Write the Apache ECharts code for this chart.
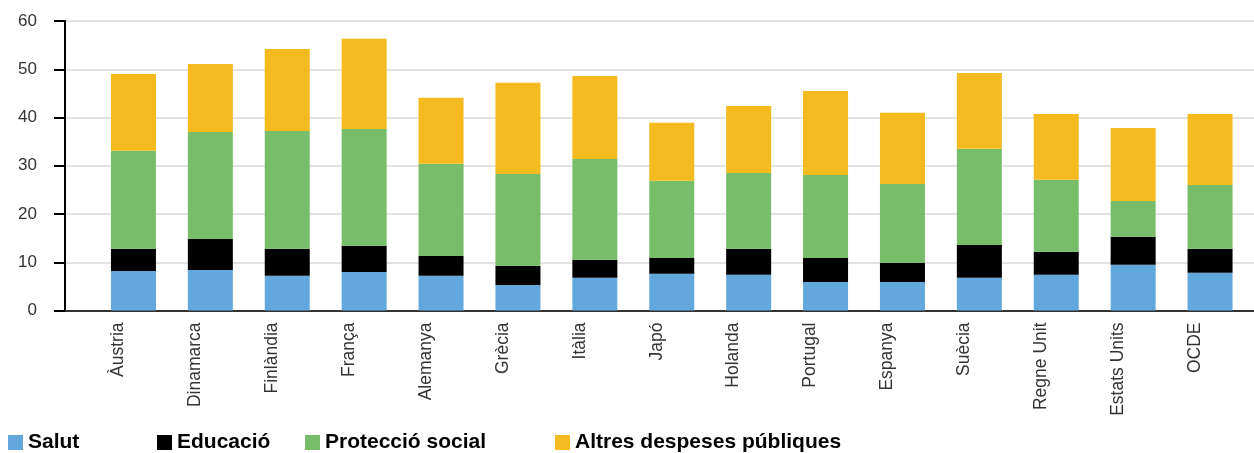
<!DOCTYPE html>
<html>
<head>
<meta charset="utf-8">
<script src="https://cdn.jsdelivr.net/npm/echarts@6/dist/echarts.min.js"></script>
<style>
html,body{margin:0;padding:0;background:#fff;}
#chart{width:1254px;height:453px;}
</style>
</head>
<body>
<div id="chart"></div>
<script>
const categories = ['Àustria','Dinamarca','Finlàndia','França','Alemanya','Grècia','Itàlia','Japó','Holanda','Portugal','Espanya','Suècia','Regne Unit','Estats Units','OCDE'];
const salut     = [8.2, 8.4, 7.2, 8.0, 7.2, 5.3, 6.8, 7.6, 7.4, 5.9, 5.9, 6.8, 7.4, 9.5, 7.8];
const educacio  = [4.6, 6.4, 5.6, 5.4, 4.1, 3.95, 3.7, 3.3, 5.4, 5.0, 4.0, 6.8, 4.8, 5.8, 5.0];
const proteccio = [20.3, 22.2, 24.4, 24.2, 19.1, 19.05, 20.9, 16.0, 15.7, 17.2, 16.3, 19.9, 14.9, 7.4, 13.2];
const altres    = [15.9, 14.1, 17.0, 18.7, 13.7, 18.9, 17.2, 12.0, 13.9, 17.4, 14.8, 15.7, 13.6, 15.1, 14.7];
const yTicks = [0, 10, 20, 30, 40, 50, 60];
const seriesNames = ['Salut','Educació','Protecció social','Altres despeses públiques'];
const seriesColors = ['#62A8DC','#000000','#78BE6A','#F5BA1E'];
const seriesData = [salut, educacio, proteccio, altres];

const chart = echarts.init(document.getElementById('chart'));
const fontFam = '"Liberation Sans", Arial, sans-serif';
const legendLefts = [8, 157, 305, 555];

chart.setOption({
  animation: false,
  backgroundColor: '#ffffff',
  textStyle: { fontFamily: fontFam },
  legend: seriesNames.map((n, i) => ({
    data: [n],
    left: legendLefts[i],
    top: 432,
    itemWidth: 15,
    itemHeight: 15,
    itemGap: 0,
    icon: 'rect',
    padding: 0,
    textStyle: { fontSize: 21, fontWeight: 'bold', color: '#000', fontFamily: fontFam }
  })),
  grid: [
    { left: 65, right: 0, top: 21, bottom: 142.5 },
    { left: 95, right: 5.5, top: 21, bottom: 142.5 }
  ],
  xAxis: [
    { gridIndex: 0, type: 'value', min: 0, max: 1,
      axisLine: { show: true, onZero: false, lineStyle: { color: '#333', width: 2 } },
      axisTick: { show: false }, axisLabel: { show: false }, splitLine: { show: false } },
    { gridIndex: 1, type: 'category', data: categories, boundaryGap: true,
      axisLine: { show: false }, axisTick: { show: false },
      axisLabel: { rotate: 90, margin: 12, fontSize: 17.5, color: '#333', fontFamily: fontFam,
                   verticalAlign: 'bottom', padding: [0, 0, 6, 0] } }
  ],
  yAxis: [
    { gridIndex: 0, type: 'value', min: yTicks[0], max: yTicks[yTicks.length-1], interval: 10,
      axisLine: { show: true, lineStyle: { color: '#000', width: 2 } },
      axisTick: { show: true, length: 11, lineStyle: { color: '#000', width: 2 } },
      axisLabel: { fontSize: 17, color: '#333', margin: 28, fontFamily: fontFam },
      splitLine: { show: true, lineStyle: { color: '#d9d9d9', width: 1.5 } } },
    { gridIndex: 1, type: 'value', min: 0, max: 60, show: false }
  ],
  series: seriesNames.map((n, i) => ({
    name: n,
    type: 'bar',
    stack: 'total',
    xAxisIndex: 1,
    yAxisIndex: 1,
    barWidth: 45,
    itemStyle: { color: seriesColors[i] },
    data: seriesData[i]
  }))
});
</script>
</body>
</html>
